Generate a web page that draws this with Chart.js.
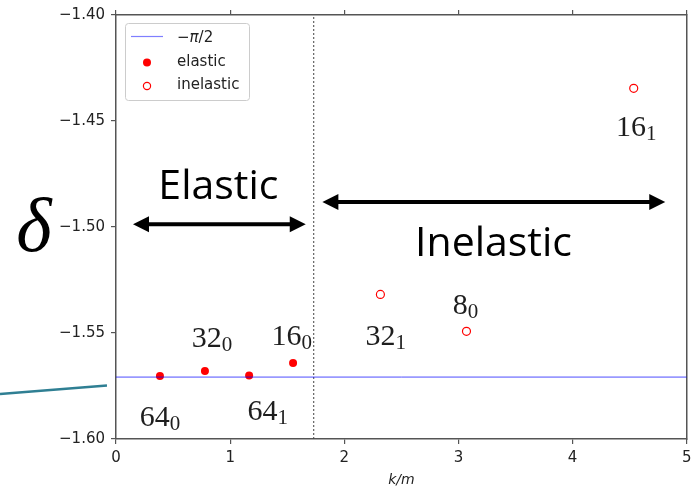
<!DOCTYPE html>
<html>
<head>
<meta charset="utf-8">
<script src="https://cdn.jsdelivr.net/npm/chart.js@4.4.0/dist/chart.umd.min.js"></script>
<style>
  html, body { margin: 0; padding: 0; background: #fff; }
</style>
</head>
<body>
<canvas id="phaseChart" width="692" height="489"></canvas>
<script>
// elastic states: k/m and phase shift delta
const elasticK = [0.385, 0.779, 1.166, 1.551];
const elasticDelta = [-1.5703, -1.5679, -1.5700, -1.5642];
const elasticNames = [['64', '0'], ['32', '0'], ['64', '1'], ['16', '0']];

// inelastic states
const inelasticK = [2.316, 3.070, 4.535];
const inelasticDelta = [-1.5318, -1.5492, -1.4346];
const inelasticNames = [['32', '1'], ['8', '0'], ['16', '1']];

// axis ticks
const xTicks = [0, 1, 2, 3, 4, 5];
const yTicks = [-1.60, -1.55, -1.50, -1.45, -1.40];

const threshold = 1.732;        // dashed line at k/m = sqrt(3)
const minusPiHalf = -Math.PI / 2;

// where the state labels sit (data coords: centre x, baseline y)
const elasticLabelSpots = [[0.385, -1.5939], [0.84, -1.5568], [1.33, -1.5910], [1.54, -1.5557]];
const inelasticLabelSpots = [[2.362, -1.5557], [3.062, -1.5410], [4.558, -1.4571]];

const AXIS_COLOR = '#555';
const TEXT_COLOR = '#222';

function drawStateLabel(ctx, name, cx, cy) {
  ctx.save();
  ctx.fillStyle = '#1e1e1e';
  ctx.textBaseline = 'alphabetic';
  ctx.textAlign = 'left';
  ctx.font = '30px "Liberation Serif"';
  const mainW = ctx.measureText(name[0]).width;
  ctx.font = '21px "Liberation Serif"';
  const subW = ctx.measureText(name[1]).width;
  const start = cx - (mainW + subW) / 2;
  ctx.font = '30px "Liberation Serif"';
  ctx.fillText(name[0], start, cy);
  ctx.font = '21px "Liberation Serif"';
  ctx.fillText(name[1], start + mainW, cy + 4);
  ctx.restore();
}

function drawDoubleArrow(ctx, x1, x2, y) {
  const head = 16, half = 8;
  ctx.save();
  ctx.strokeStyle = '#000';
  ctx.fillStyle = '#000';
  ctx.lineWidth = 4;
  ctx.beginPath();
  ctx.moveTo(x1 + head - 2, y);
  ctx.lineTo(x2 - head + 2, y);
  ctx.stroke();
  ctx.beginPath();
  ctx.moveTo(x1, y);
  ctx.lineTo(x1 + head, y - half);
  ctx.lineTo(x1 + head, y + half);
  ctx.closePath();
  ctx.fill();
  ctx.beginPath();
  ctx.moveTo(x2, y);
  ctx.lineTo(x2 - head, y - half);
  ctx.lineTo(x2 - head, y + half);
  ctx.closePath();
  ctx.fill();
  ctx.restore();
}

// annotations: state labels, arrows, region names, legend, delta symbol
const overlayPlugin = {
  id: 'overlay',
  afterDatasetsDraw(chart) {
    const { ctx } = chart;
    const x = chart.scales.x, y = chart.scales.y;

    elasticNames.forEach((name, i) => {
      const [lx, ly] = elasticLabelSpots[i];
      drawStateLabel(ctx, name, x.getPixelForValue(lx), y.getPixelForValue(ly));
    });
    inelasticNames.forEach((name, i) => {
      const [lx, ly] = inelasticLabelSpots[i];
      drawStateLabel(ctx, name, x.getPixelForValue(lx), y.getPixelForValue(ly));
    });

    drawDoubleArrow(ctx, x.getPixelForValue(0.149), x.getPixelForValue(1.662), y.getPixelForValue(-1.4987));
    drawDoubleArrow(ctx, x.getPixelForValue(1.808), x.getPixelForValue(4.811), y.getPixelForValue(-1.4882));

    ctx.save();
    ctx.fillStyle = '#000';
    ctx.textAlign = 'center';
    ctx.textBaseline = 'alphabetic';
    ctx.font = '41px "Open Sans"';
    ctx.fillText('Elastic', x.getPixelForValue(0.897), y.getPixelForValue(-1.4868));
    ctx.fillText('Inelastic', x.getPixelForValue(3.307), y.getPixelForValue(-1.5137));
    ctx.restore();
  },
  afterDraw(chart) {
    const { ctx } = chart;

    // legend box
    ctx.save();
    ctx.fillStyle = 'rgba(255,255,255,0.85)';
    ctx.strokeStyle = '#cccccc';
    ctx.lineWidth = 1;
    ctx.beginPath();
    ctx.roundRect(125.5, 23.5, 124, 77, 3);
    ctx.fill();
    ctx.stroke();

    ctx.strokeStyle = 'rgba(0,0,255,0.5)';
    ctx.lineWidth = 1.2;
    ctx.beginPath();
    ctx.moveTo(131, 36.5);
    ctx.lineTo(163, 36.5);
    ctx.stroke();

    ctx.fillStyle = '#ff0000';
    ctx.beginPath();
    ctx.arc(147, 62.5, 4, 0, Math.PI * 2);
    ctx.fill();

    ctx.strokeStyle = '#ff0000';
    ctx.lineWidth = 1.2;
    ctx.beginPath();
    ctx.arc(147, 86, 3.6, 0, Math.PI * 2);
    ctx.stroke();

    ctx.fillStyle = TEXT_COLOR;
    ctx.textAlign = 'left';
    ctx.textBaseline = 'middle';
    ctx.font = '15px "DejaVu Sans"';
    ctx.fillText('\u2212', 177, 38);
    const mw = ctx.measureText('\u2212').width;
    ctx.font = 'italic 15px "DejaVu Sans"';
    ctx.fillText('\u03c0', 177 + mw, 38);
    const pw = ctx.measureText('\u03c0').width;
    ctx.font = '15px "DejaVu Sans"';
    ctx.fillText('/2', 177 + mw + pw, 38);
    ctx.fillText('elastic', 177, 62);
    ctx.fillText('inelastic', 177, 85);
    ctx.restore();

    // delta symbol and the pasted pointer line at the left
    ctx.save();
    ctx.fillStyle = '#000';
    ctx.textAlign = 'center';
    ctx.textBaseline = 'alphabetic';
    ctx.font = 'italic 76px "Liberation Serif"';
    ctx.fillText('\u03b4', 34, 251);
    ctx.strokeStyle = '#2f7f93';
    ctx.lineWidth = 2.5;
    ctx.beginPath();
    ctx.moveTo(0, 394);
    ctx.lineTo(107, 385.5);
    ctx.stroke();
    ctx.restore();
  }
};

const fitWidth = w => s => { s.width = w; s.paddingTop = 0; s.paddingBottom = 0; };
const fitHeight = h => s => { s.height = h; s.paddingLeft = 0; s.paddingRight = 0; };

const ctx = document.getElementById('phaseChart').getContext('2d');
const phaseChart = new Chart(ctx, {
  type: 'scatter',
  data: {
    datasets: [
      {
        label: '\u2212\u03c0/2',
        data: [{ x: 0, y: minusPiHalf }, { x: 5, y: minusPiHalf }],
        showLine: true,
        borderColor: 'rgba(0,0,255,0.7)',
        borderWidth: 1,
        pointRadius: 0
      },
      {
        label: 'threshold',
        data: [{ x: threshold, y: -1.60 }, { x: threshold, y: -1.40 }],
        showLine: true,
        borderColor: '#444',
        borderWidth: 1,
        borderDash: [2, 2],
        pointRadius: 0
      },
      {
        label: 'elastic',
        data: elasticK.map((k, i) => ({ x: k, y: elasticDelta[i] })),
        pointRadius: 4,
        backgroundColor: '#ff0000',
        borderColor: '#ff0000',
        borderWidth: 0
      },
      {
        label: 'inelastic',
        data: inelasticK.map((k, i) => ({ x: k, y: inelasticDelta[i] })),
        pointRadius: 4,
        backgroundColor: 'rgba(255,255,255,0)',
        borderColor: '#ff0000',
        borderWidth: 1.2
      }
    ]
  },
  options: {
    responsive: false,
    animation: false,
    layout: { padding: 0 },
    plugins: {
      legend: { display: false },
      tooltip: { enabled: false }
    },
    scales: {
      x: {
        type: 'linear',
        position: 'bottom',
        min: 0,
        max: 5,
        afterBuildTicks: s => { s.ticks = xTicks.map(v => ({ value: v })); },
        ticks: {
          color: TEXT_COLOR,
          padding: 5,
          font: { family: 'DejaVu Sans', size: 15 },
          callback: v => String(v)
        },
        grid: { drawOnChartArea: false, tickLength: 5, color: AXIS_COLOR, lineWidth: 1.2 },
        border: { color: AXIS_COLOR, width: 1.5 },
        title: {
          display: true,
          text: 'k/m',
          color: TEXT_COLOR,
          padding: 0,
          font: { family: 'DejaVu Sans', size: 14, style: 'italic' }
        },
        afterFit: fitHeight(50)
      },
      x2: {
        type: 'linear',
        position: 'top',
        min: 0,
        max: 5,
        afterBuildTicks: s => { s.ticks = xTicks.map(v => ({ value: v })); },
        ticks: { display: false },
        grid: { drawOnChartArea: false, tickLength: 5, color: AXIS_COLOR, lineWidth: 1.2 },
        border: { color: AXIS_COLOR, width: 1.5 },
        afterFit: fitHeight(15)
      },
      y: {
        type: 'linear',
        position: 'left',
        min: -1.60,
        max: -1.40,
        afterBuildTicks: s => { s.ticks = yTicks.map(v => ({ value: v })); },
        ticks: {
          color: TEXT_COLOR,
          padding: 6,
          font: { family: 'DejaVu Sans', size: 15 },
          callback: v => v.toFixed(2).replace('-', '\u2212')
        },
        grid: { drawOnChartArea: false, tickLength: 5, color: AXIS_COLOR, lineWidth: 1.2 },
        border: { color: AXIS_COLOR, width: 1.5 },
        afterFit: fitWidth(116)
      },
      y2: {
        type: 'linear',
        position: 'right',
        min: -1.60,
        max: -1.40,
        ticks: { display: false },
        grid: { display: false },
        border: { color: AXIS_COLOR, width: 1.5 },
        afterFit: fitWidth(5)
      }
    }
  },
  plugins: [overlayPlugin]
});
</script>
</body>
</html>
